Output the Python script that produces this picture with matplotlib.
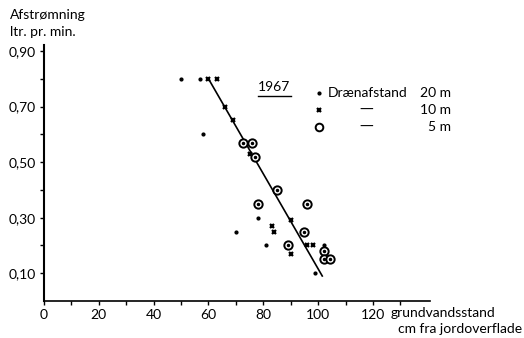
import matplotlib.pyplot as plt
from matplotlib.lines import Line2D

plt.rcParams['font.family'] = ['Lato', 'DejaVu Sans']

# Drænafstand 20 m (small dots)
dot_x = [50, 57, 58, 78, 70, 81, 102, 99]
dot_y = [0.80, 0.80, 0.60, 0.30, 0.25, 0.20, 0.20, 0.10]

# Drænafstand 10 m (small crosses)
cross_x = [60, 63, 66, 69, 75, 83, 84, 90, 90, 96, 98]
cross_y = [0.80, 0.80, 0.70, 0.65, 0.53, 0.27, 0.25, 0.29, 0.17, 0.20, 0.20]

# Drænafstand 5 m (open circles)
circ_x = [72.5, 76, 77, 85, 78, 96, 95, 89, 102, 102, 104.5]
circ_y = [0.57, 0.57, 0.52, 0.40, 0.35, 0.35, 0.25, 0.20, 0.18, 0.15, 0.15]

# fitted line
fit_x = [60, 101.5]
fit_y = [0.80, 0.09]

xticks = [0, 20, 40, 60, 80, 100, 120]
yticks = [0.10, 0.30, 0.50, 0.70, 0.90]
ylabels = ['0,10', '0,30', '0,50', '0,70', '0,90']

fs = 10

fig = plt.figure(figsize=(5.24, 3.38), dpi=100)
ax = fig.add_axes([0.084, 0.1095, 0.7366, 0.7575])

ax.plot(fit_x, fit_y, color='black', lw=1.2)
ax.plot(dot_x, dot_y, ls='none', marker='o', ms=2, color='black')
ax.plot(cross_x, cross_y, ls='none', marker='x', ms=3.5, mew=1.6, color='black')
ax.plot(circ_x, circ_y, ls='none', marker='o', ms=6, mfc='white', mec='black', mew=1.4)
ax.plot(circ_x, circ_y, ls='none', marker='o', ms=1.5, color='black')

ax.set_xlim(0, 140.8)
ax.set_ylim(0, 0.922)
for s in ['top', 'right']:
    ax.spines[s].set_visible(False)
ax.spines['left'].set_linewidth(1.5)
ax.spines['bottom'].set_linewidth(1.2)

ax.set_xticks(xticks)
ax.set_xticklabels([str(v) for v in xticks], fontsize=fs)
ax.set_xticks(list(range(0, 131, 10)), minor=True)
ax.set_yticks(yticks)
ax.set_yticklabels(ylabels, fontsize=fs)
ax.set_yticks([0.1 * i for i in range(1, 10)], minor=True)
ax.tick_params(which='both', direction='out', length=3, width=1, pad=3)

# axis titles
fig.text(10 / 524, 1 - 15 / 338, 'Afstrømning', fontsize=fs, va='center', ha='left')
fig.text(10 / 524, 1 - 32 / 338, 'ltr. pr. min.', fontsize=fs, va='center', ha='left')
fig.text(391 / 524, 1 - 313 / 338, 'grundvandsstand', fontsize=fs, va='center', ha='left')
fig.text(398 / 524, 1 - 329 / 338, 'cm fra jordoverflade', fontsize=fs, va='center', ha='left')

# year label, underlined
fig.text(274 / 524, 1 - 87 / 338, '1967', fontsize=fs, va='center', ha='center')
fig.add_artist(Line2D([258 / 524, 291 / 524], [1 - 96 / 338, 1 - 96 / 338],
                      color='black', lw=1))

# legend
fig.add_artist(Line2D([319 / 524], [1 - 93 / 338], marker='o', ms=2, color='black', ls='none'))
fig.add_artist(Line2D([319 / 524], [1 - 110 / 338], marker='x', ms=3.5, mew=1.6, color='black', ls='none'))
fig.add_artist(Line2D([319 / 524], [1 - 127 / 338], marker='o', ms=5.5, mfc='white', mec='black', mew=1.4, ls='none'))
fig.text(328 / 524, 1 - 93 / 338, 'Drænafstand', fontsize=fs, va='center', ha='left')
fig.text(451 / 524, 1 - 93 / 338, '20 m', fontsize=fs, va='center', ha='right')
fig.text(366 / 524, 1 - 110 / 338, '—', fontsize=fs, va='center', ha='center',
         family=['DejaVu Sans'])
fig.text(451 / 524, 1 - 110 / 338, '10 m', fontsize=fs, va='center', ha='right')
fig.text(366 / 524, 1 - 127 / 338, '—', fontsize=fs, va='center', ha='center',
         family=['DejaVu Sans'])
fig.text(451 / 524, 1 - 127 / 338, '5 m', fontsize=fs, va='center', ha='right')

fig.savefig('out.png', dpi=100)
